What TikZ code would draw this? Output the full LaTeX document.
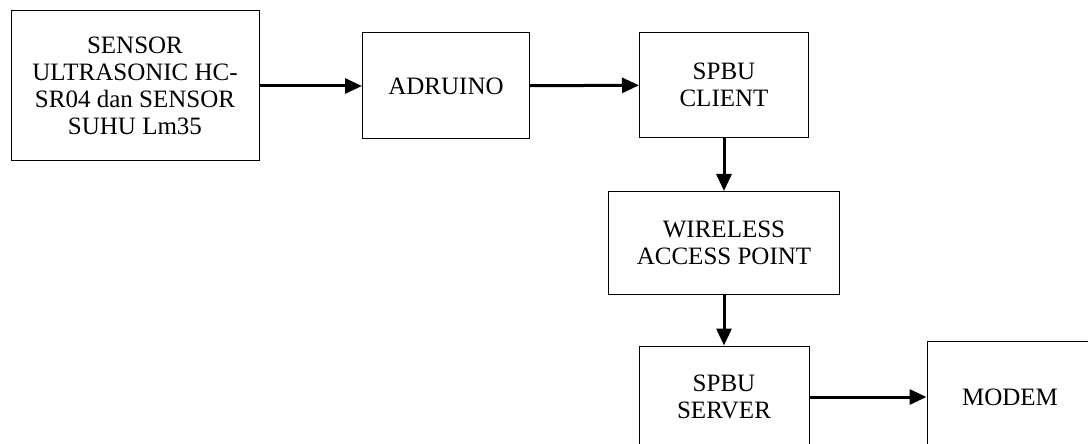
\documentclass[tikz,border=0pt]{standalone}
\usepackage{fontspec}
\setmainfont{Liberation Serif}
\usetikzlibrary{arrows.meta}

\begin{document}
\begin{tikzpicture}[x=0.5pt,y=-0.5pt,
    blok/.style={draw,line width=0.5pt,align=center,inner sep=0pt,
      font=\fontsize{12.5}{13.6}\selectfont},
    panah/.style={line width=1.5pt,-{Triangle[length=8.5pt,width=7.5pt]}}]
  \useasboundingbox (0,0) rectangle (1088,444);
  \node[blok,minimum width=124pt,minimum height=75pt] (sensor) at (135,86)
    {SENSOR\\ULTRASONIC HC-\\SR04 dan SENSOR\\SUHU Lm35};
  \node[blok,minimum width=83.5pt,minimum height=53pt] (adruino) at (446,86) {ADRUINO};
  \node[blok,minimum width=84.5pt,minimum height=52.5pt] (client) at (724,85) {SPBU\\CLIENT};
  \node[blok,minimum width=115.5pt,minimum height=51.5pt] (wap) at (724,243) {WIRELESS\\ACCESS POINT};
  \node[blok,minimum width=85pt,minimum height=51pt] (server) at (724,397) {SPBU\\SERVER};
  \node[blok,minimum width=83pt,minimum height=56pt] (modem) at (1010,397) {MODEM};
  \path[panah]
    (sensor) edge (adruino)
    (adruino) edge (client)
    (client) edge (wap)
    (wap) edge (server)
    (server) edge (modem);
\end{tikzpicture}
\end{document}
